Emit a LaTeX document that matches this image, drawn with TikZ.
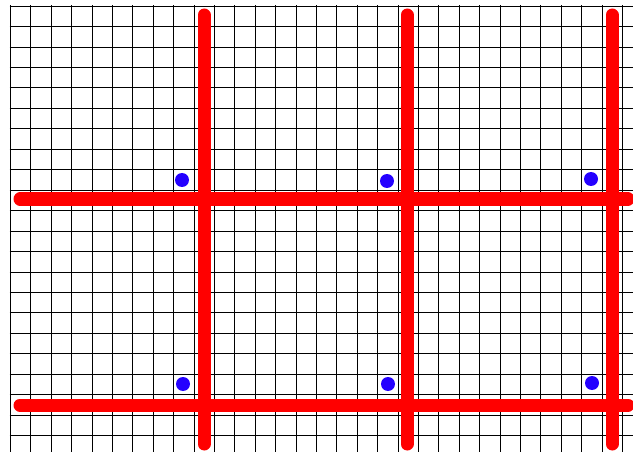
\documentclass[tikz,border=0pt]{standalone}
\definecolor{gridred}{RGB}{255,0,0}
\definecolor{dotblue}{RGB}{36,0,255}
\tikzset{
  gridline/.style={black, line width=1pt},
  redbar/.style={gridred, line width=13pt, line cap=round},
  bluedot/.style={fill=dotblue, draw=none},
}
\begin{document}
\begin{tikzpicture}[x=1pt,y=-1pt]
\useasboundingbox (0,0) rectangle (633,452);
\fill[white] (0,0) rectangle (633,452);
\begin{scope}
\clip (0,0) rectangle (633,452);
% grid
\foreach \k in {0,...,30} {
  \pgfmathsetmacro{\gx}{round(10+20.4*\k)+0.5}
  \draw[gridline] (\gx,5.5) -- (\gx,460);
}
\foreach \k in {0,...,21} {
  \pgfmathsetmacro{\gy}{round(5.7+20.45*\k)+0.5}
  \draw[gridline] (9.5,\gy) -- (640,\gy);
}
% red bars
\coordinate (h1l) at (20,199);
\coordinate (h1r) at (628,199);
\coordinate (h2l) at (20,405);
\coordinate (h2r) at (628,405);
\coordinate (v1t) at (204,15);
\coordinate (v1b) at (204,444);
\coordinate (v2t) at (407,15);
\coordinate (v2b) at (407,444);
\coordinate (v3t) at (612,15);
\coordinate (v3b) at (612,444);
\draw[redbar] (h1l) -- (h1r);
\draw[redbar] (h2l) -- (h2r);
\draw[redbar] (v1t) -- (v1b);
\draw[redbar] (v2t) -- (v2b);
\draw[redbar] (v3t) -- (v3b);
% blue dots
\foreach \x/\y in {182/180, 387/181, 591/179, 183/384, 388/384, 592/383} {
  \fill[bluedot] (\x,\y) circle (7);
}
\end{scope}
\end{tikzpicture}
\end{document}
